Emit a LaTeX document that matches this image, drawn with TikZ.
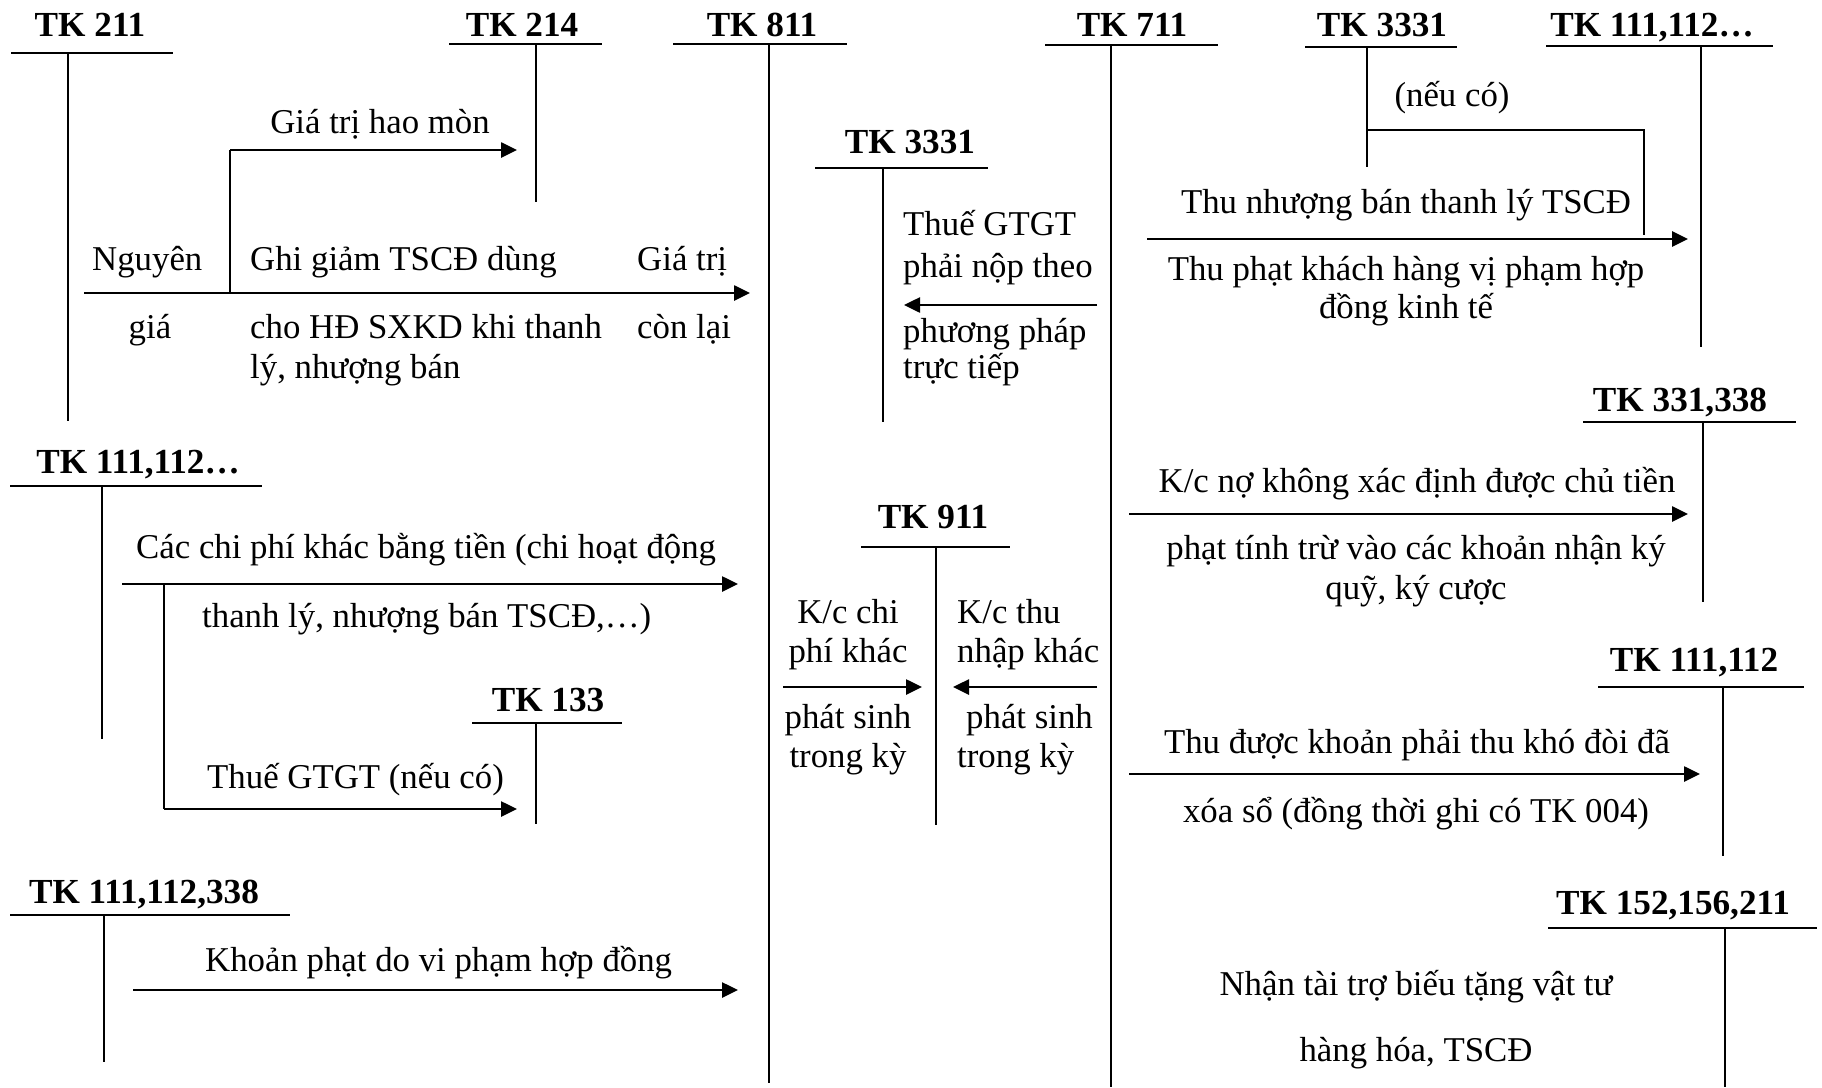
\documentclass[tikz,border=0pt]{standalone}
\usepackage{fontspec}
\setmainfont{Liberation Serif}
\usetikzlibrary{arrows.meta}
\newcommand{\TAcc}[9]{%
  \node[head] (#1) at (#3,#4) {#2};
  \coordinate (#1-l) at (#5,#7);
  \coordinate (#1-r) at (#6,#7);
  \coordinate (#1-t) at (#8,#7);
  \coordinate (#1-b) at (#8,#9);
  \draw[tline] (#1-l) -- (#1-r);
  \draw[tline] (#1-t) -- (#1-b);
}
\begin{document}
\begin{tikzpicture}[x=1pt,y=-1pt,
  tline/.style={line width=2pt},
  arr/.style={line width=2.6pt,-{Triangle[length=16pt,width=15pt]}},
  head/.style={font=\fontsize{35.2}{40}\selectfont\bfseries,inner sep=0pt,anchor=base},
  lbl/.style={font=\fontsize{34.8}{40}\selectfont,inner sep=0pt,anchor=base west},
  lblc/.style={font=\fontsize{34.8}{40}\selectfont,inner sep=0pt,anchor=base},
]
\useasboundingbox[fill=white] (0,0) rectangle (1822,1087);

% T-accounts
\TAcc{a211}{TK 211}{90}{36}{11}{173}{53}{68}{421}
\TAcc{a214}{TK 214}{522}{36}{449}{602}{44}{536}{202}
\TAcc{a811}{TK 811}{762}{36}{673}{847}{44}{769}{1083}
\TAcc{a711}{TK 711}{1132}{36}{1045}{1218}{45}{1111}{1087}
\TAcc{a3331r}{TK 3331}{1382}{36}{1305}{1457}{47}{1367}{167}
\TAcc{a111r}{TK 111,112…}{1652}{36}{1546}{1773}{46}{1701}{347}
\TAcc{a3331m}{TK 3331}{910}{153}{815}{988}{168}{883}{422}
\TAcc{a111l}{TK 111,112…}{138}{473}{10}{262}{486}{102}{739}
\TAcc{a911}{TK 911}{933}{528}{861}{1010}{547}{936}{825}
\TAcc{a133}{TK 133}{548}{711}{472}{622}{723}{536}{824}
\TAcc{a338l}{TK 111,112,338}{144}{903}{10}{290}{915}{104}{1062}
\TAcc{a331}{TK 331,338}{1680}{411}{1583}{1796}{422}{1703}{602}
\TAcc{a112r}{TK 111,112}{1694}{671}{1598}{1804}{687}{1723}{856}
\TAcc{a152}{TK 152,156,211}{1673}{914}{1548}{1817}{928}{1725}{1087}

% TK 211 -> TK 811, branch to TK 214
\coordinate (m0) at (84,293);
\coordinate (m1) at (750,293);
\coordinate (mb) at (230,293);
\coordinate (mc) at (230,150);
\coordinate (m2) at (517,150);
\draw[arr] (m0) -- (m1);
\draw[tline] (mb) -- (mc);
\draw[arr] (mc) -- (m2);
\node[lblc] (tHao) at (380,133) {Giá trị hao mòn};
\node[lbl] (tNg) at (92,270) {Nguyên};
\node[lblc] (tGia) at (150,338) {giá};
\node[lbl] (tGhi1) at (250,270) {Ghi giảm TSCĐ dùng};
\node[lbl] (tGhi2) at (250,338) {cho HĐ SXKD khi thanh};
\node[lbl] (tGhi3) at (250,378) {lý, nhượng bán};
\node[lbl] (tGtr1) at (637,270) {Giá trị};
\node[lbl] (tGtr2) at (637,338) {còn lại};

% TK 711 -> TK 3331 (middle)
\coordinate (v0) at (1097,305);
\coordinate (v1) at (904,305);
\draw[arr] (v0) -- (v1);
\node[lbl] (tV1) at (903,235) {Thuế GTGT};
\node[lbl] (tV2) at (903,277) {phải nộp theo};
\node[lbl] (tV3) at (903,342) {phương pháp};
\node[lbl] (tV4) at (903,378) {trực tiếp};

% TK 111,112... (left) -> TK 811, branch to TK 133
\coordinate (c0) at (122,584);
\coordinate (c1) at (738,584);
\coordinate (cb) at (164,584);
\coordinate (cc) at (164,809);
\coordinate (c2) at (517,809);
\draw[arr] (c0) -- (c1);
\draw[tline] (cb) -- (cc);
\draw[arr] (cc) -- (c2);
\node[lbl] (tC1) at (136,558) {Các chi phí khác bằng tiền (chi hoạt động};
\node[lbl] (tC2) at (202,627) {thanh lý, nhượng bán TSCĐ,…)};
\node[lbl] (tC3) at (207,788) {Thuế GTGT (nếu có)};

% TK 111,112,338 -> TK 811
\coordinate (k0) at (133,990);
\coordinate (k1) at (738,990);
\draw[arr] (k0) -- (k1);
\node[lbl] (tK1) at (205,971) {Khoản phạt do vi phạm hợp đồng};

% TK 911
\coordinate (e0) at (783,687);
\coordinate (e1) at (922,687);
\draw[arr] (e0) -- (e1);
\coordinate (f0) at (1097,687);
\coordinate (f1) at (953,687);
\draw[arr] (f0) -- (f1);
\node[lblc] (tE1) at (848,623) {K/c chi};
\node[lblc] (tE2) at (848,662) {phí khác};
\node[lblc] (tE3) at (848,728) {phát sinh};
\node[lblc] (tE4) at (848,767) {trong kỳ};
\node[lbl] (tF1) at (957,623) {K/c thu};
\node[lbl] (tF2) at (957,662) {nhập khác};
\node[lbl] (tF3) at (966,728) {phát sinh};
\node[lbl] (tF4) at (957,767) {trong kỳ};

% TK 711 side (top right)
\coordinate (n0) at (1367,130);
\coordinate (n1) at (1644,130);
\coordinate (n2) at (1644,235);
\draw[tline] (n0) -- (n1) -- (n2);
\coordinate (p0) at (1147,239);
\coordinate (p1) at (1688,239);
\draw[arr] (p0) -- (p1);
\node[lblc] (tN) at (1452,106) {(nếu có)};
\node[lblc] (tP1) at (1406,213) {Thu nhượng bán thanh lý TSCĐ};
\node[lblc] (tP2) at (1406,280) {Thu phạt khách hàng vị phạm hợp};
\node[lblc] (tP3) at (1406,318) {đồng kinh tế};

% K/c no -> TK 331,338
\coordinate (q0) at (1129,514);
\coordinate (q1) at (1688,514);
\draw[arr] (q0) -- (q1);
\node[lblc] (tQ1) at (1417,492) {K/c nợ không xác định được chủ tiền};
\node[lblc] (tQ2) at (1416,559) {phạt tính trừ vào các khoản nhận ký};
\node[lblc] (tQ3) at (1416,599) {quỹ, ký cược};

% Thu duoc -> TK 111,112
\coordinate (r0) at (1129,774);
\coordinate (r1) at (1700,774);
\draw[arr] (r0) -- (r1);
\node[lblc] (tR1) at (1417,753) {Thu được khoản phải thu khó đòi đã};
\node[lblc] (tR2) at (1416,822) {xóa sổ (đồng thời ghi có TK 004)};

% TK 152,156,211
\node[lblc] (tS1) at (1416,995) {Nhận tài trợ biếu tặng vật tư};
\node[lblc] (tS2) at (1416,1061) {hàng hóa, TSCĐ};
\end{tikzpicture}
\end{document}
